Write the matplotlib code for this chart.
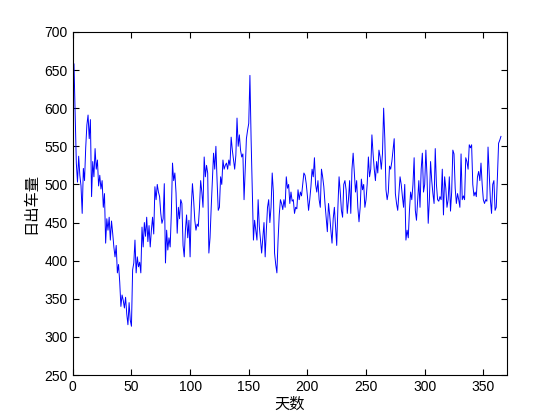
#!/usr/bin/env python3

import matplotlib
matplotlib.use("Agg")
import matplotlib.pyplot as plt
import numpy as np

# daily output, day 1 .. 365
days = np.arange(1, 366)
output = [
    658, 592, 528, 503, 537, 512, 498, 462, 521, 505,
    548, 578, 591, 560, 585, 484, 530, 510, 547, 520,
    532, 498, 512, 494, 505, 470, 488, 423, 455, 440,
    457, 427, 452, 436, 418, 405, 420, 384, 395, 372,
    340, 355, 348, 338, 352, 330, 316, 345, 322, 314,
    388, 397, 427, 384, 405, 392, 398, 384, 444, 418,
    450, 432, 457, 425, 446, 418, 440, 457, 435, 497,
    480, 500, 490, 484, 462, 449, 455, 501, 397, 440,
    414, 430, 418, 462, 528, 505, 515, 489, 436, 470,
    455, 480, 475, 420, 405, 440, 460, 430, 453, 405,
    470, 501, 480, 453, 440, 448, 445, 470, 505, 490,
    470, 536, 510, 525, 515, 410, 430, 470, 505, 541,
    520, 550, 505, 466, 470, 510, 500, 532, 520, 525,
    528, 520, 532, 525, 562, 545, 532, 520, 538, 587,
    550, 565, 545, 536, 540, 480, 520, 560, 571, 580,
    643, 560, 493, 427, 453, 440, 427, 480, 445, 427,
    410, 430, 450, 405, 440, 470, 480, 450, 470, 515,
    490, 410, 395, 384, 427, 460, 480, 475, 467, 480,
    470, 510, 495, 500, 475, 490, 478, 480, 462, 470,
    468, 493, 480, 490, 485, 500, 515, 512, 501, 485,
    466, 480, 497, 520, 510, 535, 500, 490, 505, 480,
    470, 520, 510, 497, 475, 457, 438, 475, 460, 440,
    423, 455, 470, 445, 420, 470, 510, 490, 466, 457,
    500, 505, 493, 462, 480, 505, 462, 520, 541, 515,
    490, 505, 470, 451, 470, 507, 493, 500, 470, 480,
    501, 536, 510, 520, 565, 540, 520, 505, 530, 515,
    545, 536, 520, 540, 600, 560, 493, 480, 490, 524,
    520, 530, 545, 560, 488, 475, 466, 488, 510, 500,
    484, 470, 500, 427, 440, 430, 466, 490, 480, 500,
    535, 466, 453, 480, 505, 470, 520, 541, 490, 500,
    545, 510, 449, 480, 530, 505, 488, 475, 547, 500,
    480, 478, 484, 480, 520, 460, 510, 495, 470, 480,
    510, 465, 490, 545, 540, 495, 475, 488, 480, 470,
    540, 480, 485, 480, 535, 530, 520, 552, 548, 552,
    500, 485, 490, 484, 510, 517, 505, 528, 500, 480,
    475, 480, 478, 549, 515, 480, 462, 500, 505, 466,
    470, 510, 554, 558, 563,
]
xticks = [0, 50, 100, 150, 200, 250, 300, 350]
yticks = [250, 300, 350, 400, 450, 500, 550, 600, 650, 700]

plt.rcParams['font.family'] = ['Liberation Sans', 'Noto Sans CJK SC', 'DejaVu Sans']

fig = plt.figure(figsize=(5.6, 4.2), dpi=100)
ax = fig.add_axes([0.13, 0.107, 0.775, 0.817])
ax.plot(days, output, color='#0000ff', lw=0.7)

ax.set_xlim(0, 370)
ax.set_ylim(250, 700)
ax.set_xticks(xticks)
ax.set_yticks(yticks)
ax.tick_params(direction='in', top=True, right=True, labelsize=10, length=4, width=0.8)
for s in ax.spines.values():
    s.set_linewidth(0.8)

cjk = ['Noto Sans CJK SC', 'DejaVu Sans']
ax.set_xlabel('天数', family=cjk, fontsize=11, labelpad=1)
ax.set_ylabel('日出车量', family=cjk, fontsize=11, labelpad=4)

fig.savefig('out.png', dpi=100)
